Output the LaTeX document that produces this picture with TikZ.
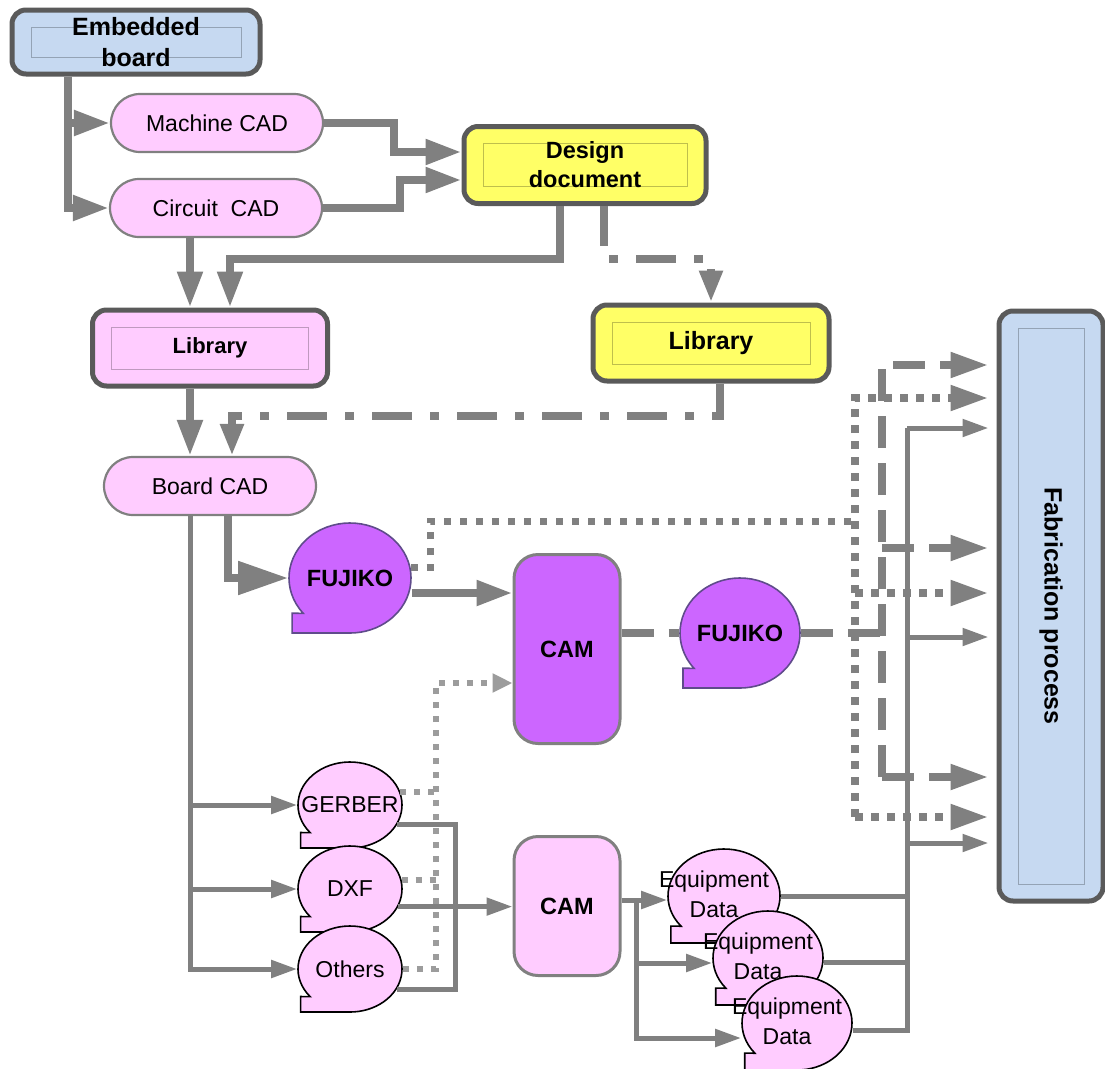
\documentclass[tikz,border=0pt]{standalone}
\usepackage{fontspec}
\setmainfont{Liberation Sans}
\usepackage{graphicx}
\usetikzlibrary{arrows.meta,shapes.misc,shapes.geometric}

\definecolor{linegray}{HTML}{808080}
\definecolor{lightline}{HTML}{9C9C9C}
\definecolor{rimgray}{HTML}{5A5A5A}
\definecolor{pinkfill}{HTML}{FFCCFF}
\definecolor{yellowfill}{HTML}{FFFF66}
\definecolor{bluefill}{HTML}{C6D9F1}
\definecolor{purplefill}{HTML}{CC66FF}
\definecolor{purpleedge}{HTML}{5F4B8B}

\newcommand{\txtfont}{\fontsize{23}{28}\selectfont}
\newcommand{\bldfont}{\bfseries\fontsize{23.5}{29}\selectfont}
\newcommand{\blob}[7]{%
  \filldraw[#6] (#2,#3) ++(140:#4 and #5) arc[start angle=140,end angle=450,x radius=#4,y radius=#5] -- ++(-0.95*#4,0) -- ++(0,-0.36*#5) -- cycle;
  \node[#6,ellipse,draw=none,fill=none,inner sep=0pt,minimum width=2*#4,minimum height=2*#5] (#1) at (#2,#3) {\makebox[0pt]{#7}};}

\begin{document}
\begin{tikzpicture}[x=1pt,y=-1pt,block/.style={fill=#1,draw=rimgray,line width=5pt,rounded corners=14pt,align=center,inner sep=0pt,path picture={\draw[#1!75!black,line width=0.8pt,sharp corners] ([shift={(19pt,-17pt)}]path picture bounding box.north west) rectangle ([shift={(-19pt,17pt)}]path picture bounding box.south east);}},pill/.style={rounded rectangle,draw=linegray,line width=2.2pt,fill=pinkfill,minimum width=212pt,minimum height=58pt,inner sep=0pt,font=\txtfont},cam/.style={fill=#1,draw=linegray,line width=3pt,rounded corners=24pt,minimum width=106pt,font=\bldfont},purpleblob/.style={fill=purplefill,draw=purpleedge,line width=1.6pt,font=\bldfont},pinkblob/.style={fill=pinkfill,draw=black,line width=1.6pt,font=\txtfont},conn/.style={draw=linegray,line width=8pt},bigarrow/.style={conn,-{Triangle[length=36pt,width=24pt]}},hugearrow/.style={conn,-{Triangle[length=50pt,width=32pt]}},thinline/.style={draw=linegray,line width=5pt},thinarrow/.style={thinline,-{Triangle[length=26pt,width=17pt]}},dashdot/.style={conn,dash pattern=on 40pt off 18pt on 9pt off 18pt,-{Triangle[length=32pt,width=22pt]}},dotline/.style={draw=linegray,line width=7pt,dash pattern=on 7pt off 9pt},dotarrow/.style={draw=linegray,line width=8pt,dash pattern=on 8pt off 8pt,-{Triangle[length=38pt,width=24pt]}},dashline/.style={conn,dash pattern=on 32pt off 15pt},dasharrow/.style={dashline,-{Triangle[length=38pt,width=24pt]}},ltdot/.style={draw=lightline,line width=6pt,dash pattern=on 6pt off 8pt},ltdotarrow/.style={ltdot,-{Triangle[length=20pt,width=18pt]}},tofab/.style={shorten >=8pt}]
\useasboundingbox (0,0) rectangle (1105,1068);
\node[block=bluefill,minimum width=248pt,minimum height=64pt,font=\bfseries\fontsize{25}{31}\selectfont] (emb) at (136,42) {Embedded\\board};
\node[pill] (mach) at (217,123) {Machine CAD};
\node[pill] (circ) at (216,208) {Circuit~~CAD};
\node[block=yellowfill,minimum width=242pt,minimum height=77pt,font=\bldfont] (dd) at (585,165) {Design\\document};
\node[block=pinkfill,minimum width=235pt,minimum height=76pt,font=\bfseries\fontsize{22}{27}\selectfont] (libp) at (210,348) {Library};
\node[block=yellowfill,minimum width=236pt,minimum height=76pt,font=\bfseries\fontsize{25}{30}\selectfont] (liby) at (711,343) {Library};
\node[pill] (board) at (210,486) {Board CAD};
\node[block=bluefill,minimum width=104pt,minimum height=590pt,font=\bfseries\fontsize{25}{30}\selectfont] (fab) at (1051,606) {\rotatebox{-90}{Fabrication process}};
\node[cam=purplefill,minimum height=189pt] (camA) at (567,649) {CAM};
\node[cam=pinkfill,minimum height=139pt] (camB) at (567,906) {CAM};
\blob{fujA}{350}{578}{61}{55}{purpleblob}{FUJIKO}
\blob{fujB}{740}{633}{60}{55}{purpleblob}{FUJIKO}
\blob{gerber}{350}{805}{52}{43}{pinkblob}{GERBER}
\blob{dxf}{350}{889}{52}{43}{pinkblob}{DXF}
\blob{others}{350}{969}{52}{43}{pinkblob}{Others}
\blob{edA}{724}{896}{56}{47}{pinkblob}{\hspace*{-20pt}\fontsize{23}{30}\selectfont\begin{tabular}{@{}c@{}}Equipment\\Data\end{tabular}}
\blob{edB}{768}{958}{55}{47}{pinkblob}{\hspace*{-20pt}\fontsize{23}{30}\selectfont\begin{tabular}{@{}c@{}}Equipment\\Data\end{tabular}}
\blob{edC}{797}{1023}{55}{47}{pinkblob}{\hspace*{-20pt}\fontsize{23}{30}\selectfont\begin{tabular}{@{}c@{}}Equipment\\Data\end{tabular}}
\coordinate (d1) at (855,398);
\coordinate (d2) at (855,593);
\coordinate (d3) at (855,817);
\coordinate (dj) at (855,521);
\coordinate (e1) at (882,365);
\coordinate (e2) at (882,548);
\coordinate (e3) at (882,777);
\coordinate (s1) at (907,428);
\coordinate (s2) at (907,637);
\coordinate (s3) at (907,843);
\draw[bigarrow] ([xshift=58pt]emb.south west) |- (mach.west);
\draw[bigarrow] ([xshift=58pt]emb.south west) |- (circ.west);
\draw[bigarrow] (mach.east) -- ++(70,0) |- ([yshift=13pt]dd.west);
\draw[bigarrow] (circ.east) -- ++(77,0) |- ([yshift=-15pt]dd.west);
\draw[bigarrow] ([xshift=-26pt]circ.south) -- ([xshift=-26pt]circ.south |- libp.north);
\draw[bigarrow] ([xshift=-25pt]dd.south) -- ++(0,53) -| ([xshift=20pt]libp.north);
\draw[dashdot] ([xshift=19pt]dd.south) -- ++(0,53) -| (liby.north);
\draw[bigarrow] ([xshift=-20pt]libp.south) -- ([xshift=-20pt]libp.south |- board.north);
\draw[dashdot] ([xshift=9pt]liby.south) -- ++(0,32) -| ([xshift=22pt]board.north);
\draw[hugearrow] ([xshift=18pt]board.south) |- (fujA.west);
\draw[thinarrow] ([xshift=-20pt]board.south) |- (gerber.west);
\draw[thinarrow] ([xshift=-20pt]board.south) |- (dxf.west);
\draw[thinarrow] ([xshift=-20pt]board.south) |- (others.west);
\draw[bigarrow] ([yshift=-15pt]fujA.east) -- ([yshift=-15pt]fujA.east -| camA.west);
\draw[dotline] (fujA.10) -- ++(20,0) |- (dj);
\draw[dotarrow,tofab] (d3) -- (d1) -- (d1 -| fab.west);
\draw[dotarrow,tofab] (d2) -- (d2 -| fab.west);
\draw[dotarrow,tofab] (d3) -- (d3 -| fab.west);
\draw[dashline] (camA.east |- fujB.west) -- (fujB.west);
\draw[dashline] (fujB.east) -- (fujB.east -| e1);
\draw[dasharrow,tofab] (e3) -- (e1) -- (e1 -| fab.west);
\draw[dasharrow,tofab] (e2) -- (e2 -| fab.west);
\draw[dasharrow,tofab] (e3) -- (e3 -| fab.west);
\draw[thinline] (gerber.-23) -- ++(58,0) |- (others.-24);
\draw[thinarrow] (dxf.-20) -- (dxf.-20 -| camB.west);
\draw[ltdot] (gerber.15) -- ++(36,0);
\draw[ltdot] (dxf.10) -- ++(34,0);
\draw[ltdotarrow] (others.east) -- ++(33,0) |- ([yshift=-34pt]camA.west);
\draw[thinarrow] ([yshift=6pt]camB.east) -- ++(15,0) |- ([yshift=-4pt]edA.west);
\draw[thinarrow] ([yshift=6pt]camB.east) -- ++(15,0) |- ([yshift=-5pt]edB.west);
\draw[thinarrow] ([yshift=6pt]camB.east) -- ++(15,0) |- ([yshift=-15pt]edC.west);
\draw[thinline] (edA.east) -- (edA.east -| s1);
\draw[thinline] ([yshift=-4pt]edB.east) -- ([yshift=-4pt]edB.east -| s1);
\draw[thinline] ([yshift=-7pt]edC.east) -| (s1);
\draw[thinarrow,tofab] (s1) -- (s1 -| fab.west);
\draw[thinarrow,tofab] (s2) -- (s2 -| fab.west);
\draw[thinarrow,tofab] (s3) -- (s3 -| fab.west);
\end{tikzpicture}
\end{document}
